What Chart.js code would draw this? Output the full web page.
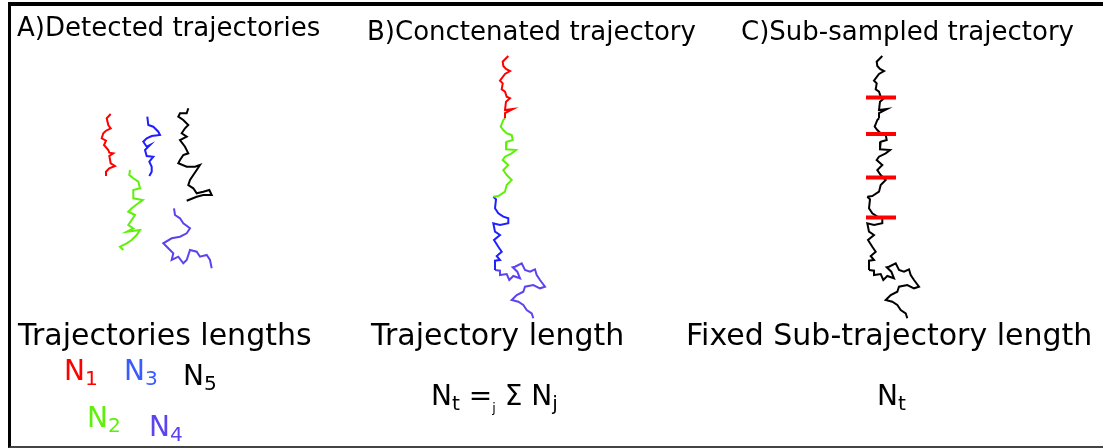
<!DOCTYPE html>
<html>
<head>
<meta charset="utf-8">
<script src="https://cdn.jsdelivr.net/npm/chart.js@4"></script>
<style>
  body { margin: 0; width: 1103px; height: 448px; overflow: hidden; background: #fff; position: relative; font-family: "DejaVu Sans", sans-serif; }
  #plot { position: absolute; left: 0; top: 0; }
  .frame { position: absolute; left: 8px; top: 2px; width: 1110px; height: 440px;
           border-top: 4px solid #000; border-left: 3px solid #000; border-bottom: 2px solid #444; }
  .t { position: absolute; white-space: nowrap; line-height: 1; color: #000; }
  .h { font-size: 26px; }
  .b { font-size: 30px; }
  .n { font-size: 28px; }
  .n sub { font-size: 0.72em; vertical-align: -0.25em; line-height: 0; }
  .n sub.tiny { font-size: 0.45em; vertical-align: -0.55em; }
</style>
</head>
<body>
<div class="frame"></div>
<canvas id="plot" width="1103" height="448"></canvas>

<div class="t h" style="left:17px;top:14px">A)Detected trajectories</div>
<div class="t h" style="left:367px;top:18px">B)Conctenated trajectory</div>
<div class="t h" style="left:741px;top:18px">C)Sub-sampled trajectory</div>

<div class="t b" style="left:18px;top:320px">Trajectories lengths</div>
<div class="t b" style="left:371px;top:320px">Trajectory length</div>
<div class="t b" style="left:686px;top:320px">Fixed Sub-trajectory length</div>

<div class="t n" style="left:64px;top:357px;color:#ff0000">N<sub>1</sub></div>
<div class="t n" style="left:124px;top:357px;color:#3a5cff">N<sub>3</sub></div>
<div class="t n" style="left:183px;top:362px;color:#000">N<sub>5</sub></div>
<div class="t n" style="left:87px;top:404px;color:#5ef00a">N<sub>2</sub></div>
<div class="t n" style="left:149px;top:413px;color:#5a44f0">N<sub>4</sub></div>

<div class="t n" style="left:431px;top:382px">N<sub>t</sub> =<sub class="tiny">j</sub> Σ N<sub>j</sub></div>
<div class="t n" style="left:877px;top:382px">N<sub>t</sub></div>

<script>
// panel A: the five detected trajectories (page pixels)
const n1X = [110.7, 106.7, 108.3, 110.7, 106, 103.3, 101.7, 106, 104, 108.3, 109.3, 113.3, 109.3, 110.7, 115, 109.3, 106, 106];
const n1Y = [114, 118.3, 125, 128.3, 130.7, 133.3, 138.3, 140.7, 145, 150, 152.7, 153.3, 156, 163.3, 166, 168.3, 171.7, 176];

const n2X = [130, 129.3, 133.3, 138.3, 140, 133.3, 133.3, 142.7, 138.3, 131.7, 128.3, 135, 131.7, 128.3, 133.3, 126.7, 140, 136.7, 131.7, 126.7, 120, 123.3];
const n2Y = [170, 175, 178.3, 181.7, 188.3, 190, 198.3, 200, 203.3, 208.3, 211.7, 215, 220, 225, 228.3, 231.7, 230, 235, 240, 243.3, 246.7, 250];

const n3X = [147.3, 148.3, 153.3, 158.3, 160, 151.7, 146.7, 143.3, 146.7, 150, 145, 146.7, 153.3, 149.3, 151.7, 151.7, 149.3];
const n3Y = [116.7, 125, 126.7, 131.7, 135, 136, 138.3, 141.7, 146.7, 145, 150, 156, 156.7, 161.7, 166.7, 171.7, 176];

const n4X = [174, 175, 180, 183.3, 190, 186.7, 180, 171.7, 163.3, 168.3, 173.3, 171.7, 178.3, 183.3, 186.7, 190, 196.7, 200, 206.7, 210, 211.7];
const n4Y = [208.3, 215, 218.3, 223.3, 228.3, 233.3, 236.7, 238.3, 243.3, 248.3, 253.3, 260, 256.7, 263.3, 260, 250, 251.7, 256.7, 255, 260, 268.3];

const n5X = [188.3, 186.7, 180, 178.3, 183.3, 188.3, 185, 181.7, 186.7, 180, 185, 188.3, 183.3, 180, 178.3, 186.7, 195, 200, 196.7, 193.3, 190, 188.3, 193.3, 196.7, 203.3, 209.3, 211.7, 203.3, 196.7, 186.7];
const n5Y = [108.3, 113.3, 113.3, 116.7, 120, 125, 128.3, 133.3, 136.7, 140, 146.7, 153.3, 155, 160, 163.3, 166.7, 166.7, 165, 170, 175, 180, 185, 188.3, 193.3, 191.7, 190, 195, 195, 196.7, 200.7];

// panel B: concatenated trajectory, one piece per colour (panel C reuses it)
const catRedX = [508.3, 502.7, 503.3, 506, 510, 505, 500, 502.7, 501.7, 505, 506.7, 510, 506, 505, 513, 505, 505];
const catRedY = [56, 61.7, 66, 69, 71, 74, 80.7, 83.3, 89.3, 91.7, 96.7, 98.3, 101.7, 110, 109, 113, 118.3];

const catGreenX = [505, 503.3, 500.7, 503.3, 506.7, 511.7, 512.7, 506.7, 506, 516, 511.7, 505, 502.7, 508.3, 503.3, 506.7, 511.7, 506.7, 505, 498.3, 493.3];
const catGreenY = [118.3, 120, 126.7, 130, 133.3, 135, 140, 141.7, 149.3, 150, 153.3, 156.7, 160, 165, 170, 175, 180, 185, 191.7, 196, 196.7];

const catBlue3X = [493.3, 496, 495, 498.3, 503.3, 508.3, 508.3, 500, 493.3, 495, 500, 494, 498.3, 501.7, 496.7, 500, 495, 495];
const catBlue3Y = [196.7, 199.3, 208.3, 213.3, 216.7, 218.3, 223.3, 225, 223.3, 231.7, 235, 240, 246.7, 251.7, 256, 260, 260.7, 270];

const catBlue4X = [495, 500, 500, 506.7, 509.3, 513.3, 520, 517.3, 512.7, 515, 521.7, 525, 530, 535, 536.7, 540, 545, 540, 533.3, 525, 523.3, 516.7, 511.7, 518.3, 523.3, 526.7, 531.7, 533.3];
const catBlue4Y = [270, 270.7, 275, 274, 280, 276, 278.3, 271.7, 267.3, 266.7, 263.3, 270, 271.7, 269.3, 275, 280, 286.7, 288.3, 285, 286.7, 291.7, 295, 300, 301.7, 305, 310, 313.3, 318.3];

// panel C: cut positions along the sub-sampled trajectory
const cutX = [507, 507, 507, 507];
const cutY = [97.5, 134, 177.5, 217.5];

const pts = (xs, ys) => xs.map((x, i) => ({ x: x, y: ys[i] }));

function walk(xs, ys, color, axis) {
  return {
    type: 'scatter',
    data: pts(xs, ys),
    xAxisID: axis,
    showLine: true,
    borderColor: color,
    borderWidth: 2,
    pointRadius: 0,
    fill: false,
    tension: 0
  };
}

const datasets = [
  {
    type: 'scatter',
    data: pts(cutX, cutY),
    xAxisID: 'xc',
    showLine: false,
    pointStyle: 'line',
    pointRadius: 15,
    borderWidth: 4,
    borderColor: '#ff0000'
  },
  walk(n1X, n1Y, '#ff0000', 'x'),
  walk(n2X, n2Y, '#5ef00a', 'x'),
  walk(n3X, n3Y, '#1f1fff', 'x'),
  walk(n4X, n4Y, '#5a44f0', 'x'),
  walk(n5X, n5Y, '#000000', 'x'),
  walk(catRedX, catRedY, '#ff0000', 'x'),
  walk(catGreenX, catGreenY, '#5ef00a', 'x'),
  walk(catBlue3X, catBlue3Y, '#1f1fff', 'x'),
  walk(catBlue4X, catBlue4Y, '#5a44f0', 'x'),
  walk(catRedX, catRedY, '#000000', 'xc'),
  walk(catGreenX, catGreenY, '#000000', 'xc'),
  walk(catBlue3X, catBlue3Y, '#000000', 'xc'),
  walk(catBlue4X, catBlue4Y, '#000000', 'xc')
];

new Chart(document.getElementById('plot').getContext('2d'), {
  type: 'scatter',
  data: { datasets: datasets },
  options: {
    responsive: false,
    animation: false,
    devicePixelRatio: 1,
    layout: { padding: 0, autoPadding: false },
    plugins: { legend: { display: false }, tooltip: { enabled: false } },
    scales: {
      x: { type: 'linear', min: 0, max: 1103, display: false },
      // panel C is panel B moved 374 px to the right
      xc: { type: 'linear', axis: 'x', min: -374, max: 729, display: false },
      y: { type: 'linear', min: 0, max: 448, reverse: true, display: false }
    }
  }
});
</script>
</body>
</html>
